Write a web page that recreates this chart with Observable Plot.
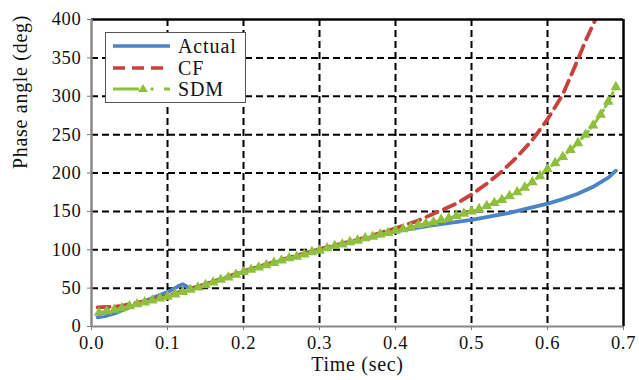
<!DOCTYPE html>
<html>
<head>
<meta charset="utf-8">
<script src="https://cdn.jsdelivr.net/npm/d3@7"></script>
<script src="https://cdn.jsdelivr.net/npm/@observablehq/plot@0.6"></script>
<style>
  html, body { margin: 0; padding: 0; background: #fff; }
  #wrap { position: relative; width: 639px; height: 380px; }
  #legend { position: absolute; left: 105px; top: 32px; width: 141px; height: 71px;
            border: 1px solid #555; background: #fff; box-sizing: border-box; }
  #legend svg { display: block; }
  #legend text { font-family: "Liberation Serif", serif; font-size: 20px; letter-spacing: 0.9px; fill: #111; }
</style>
</head>
<body>
<div id="wrap"></div>
<script>
// ---- data ----
const actualT = [0.008,0.02,0.03,0.04,0.05,0.06,0.07,0.08,0.09,0.10,0.11,0.115,0.12,0.124,0.128,0.133,0.14,0.15,0.17,0.20,0.25,0.30,0.35,0.40,0.45,0.50,0.55,0.60,0.62,0.64,0.66,0.68,0.69];
const actualV = [12,14,17,21,25,29,33,37,41,45,50,53,55,53,50,50,52,55,61,71,86,100,112,124,132,139,148,160,166,173,182,194,203];

const cfT = [0.008,0.02,0.03,0.04,0.05,0.07,0.10,0.15,0.20,0.25,0.30,0.35,0.40,0.43,0.45,0.48,0.50,0.52,0.54,0.56,0.58,0.60,0.62,0.64,0.65,0.663];
const cfV = [25,25.5,26,27,29,33,40,55,72,87,101,113,128,138,147,160,172,186,202,221,243,270,302,348,372,400];

const sdmT = [0.01,0.02,0.03,0.04,0.05,0.06,0.07,0.08,0.09,0.10,0.11,0.12,0.13,0.14,0.15,0.16,0.17,0.18,0.19,0.20,0.21,0.22,0.23,0.24,0.25,0.26,0.27,0.28,0.29,0.30,0.31,0.32,0.33,0.34,0.35,0.36,0.37,0.38,0.39,0.40,0.41,0.42,0.43,0.44,0.45,0.46,0.47,0.48,0.49,0.50,0.51,0.52,0.53,0.54,0.55,0.56,0.57,0.58,0.59,0.60,0.61,0.62,0.63,0.64,0.65,0.66,0.67,0.68,0.69];
const sdmV = [18,20,22,24,26.5,29,31.5,34,36.5,39,42,45,48,51,54,57.5,61,64,67.5,71,74,77,80,83,86,89,91,94,97,99,102,105,107,110,112,115,117,120,122,125,127,129,132,134,136,139,141,144,147,150,153,157,161,165,170,175,181,188,196,205,213,221,230,239,250,262,276,293,312];

const xTicks = [0,0.1,0.2,0.3,0.4,0.5,0.6,0.7];
const yTicks = [0,50,100,150,200,250,300,350,400];
const xGrid = [0.1,0.2,0.3,0.4,0.5,0.6];
const yGrid = [50,100,150,200,250,300,350];

const seriesNames = ["Actual","CF","SDM"];
const seriesColors = ["#4a83c6","#c9413c","#8fbf3c"];

const actual = actualT.map((t,i)=>({t, v: actualV[i]}));
const cf = cfT.map((t,i)=>({t, v: cfV[i]}));
const sdm = sdmT.map((t,i)=>({t, v: sdmV[i]}));

const chart = Plot.plot({
  width: 639, height: 380,
  marginLeft: 91, marginRight: 16, marginTop: 19, marginBottom: 54,
  style: { fontFamily: "Liberation Serif, serif", fontSize: "18.5px", color: "#111", background: "#fff", letterSpacing: "0.7px" },
  x: { domain: [0, 0.7] },
  y: { domain: [0, 400] },
  marks: [
    Plot.ruleX(xGrid, { stroke: "#000", strokeWidth: 2, strokeDasharray: "7,4" }),
    Plot.ruleY(yGrid, { stroke: "#000", strokeWidth: 2, strokeDasharray: "7,4" }),
    Plot.axisX({ ticks: xTicks, tickFormat: d3.format(".1f"), tickSize: 4, tickPadding: 5, stroke: "#777", label: null }),
    Plot.axisY({ ticks: yTicks, tickFormat: d => String(d), tickSize: 4, tickPadding: 6, stroke: "#777", label: null }),
    Plot.line(actual, { x: "t", y: "v", stroke: seriesColors[0], strokeWidth: 3.8, clip: true }),
    Plot.line(cf, { x: "t", y: "v", stroke: seriesColors[1], strokeWidth: 3.8, strokeDasharray: "12,7", clip: true }),
    Plot.line(sdm, { x: "t", y: "v", stroke: seriesColors[2], strokeWidth: 3, strokeDasharray: "10,4,2,4", clip: true }),
    Plot.dot(sdm, { x: "t", y: "v", symbol: "triangle", r: 4, fill: seriesColors[2], stroke: "none" }),
    // frame: top/right black, left/bottom gray
    Plot.ruleY([400], { stroke: "#000", strokeWidth: 2.5 }),
    Plot.ruleX([0.7], { stroke: "#000", strokeWidth: 2.5 }),
    Plot.ruleX([0], { stroke: "#888", strokeWidth: 2.5 }),
    Plot.ruleY([0], { stroke: "#888", strokeWidth: 2 }),
    Plot.text(["Time (sec)"], { frameAnchor: "bottom", dy: 44, fontSize: 20, fill: "#111" }),
    Plot.text(["Phase angle (deg)"], { frameAnchor: "left", rotate: -90, dx: -71, dy: -4, fontSize: 20, fill: "#111" })
  ]
});

const wrap = document.getElementById("wrap");
wrap.appendChild(chart);

// legend overlay
const ns = "http://www.w3.org/2000/svg";
const leg = document.createElement("div");
leg.id = "legend";
const ls = document.createElementNS(ns, "svg");
ls.setAttribute("width", 139); ls.setAttribute("height", 69);
const rowsY = [13, 35, 56];
function el(tag, attrs) { const e = document.createElementNS(ns, tag); for (const k in attrs) e.setAttribute(k, attrs[k]); ls.appendChild(e); return e; }
// Actual
el("line", { x1: 7, x2: 64, y1: rowsY[0], y2: rowsY[0], stroke: seriesColors[0], "stroke-width": 3.5 });
// CF
el("line", { x1: 7, x2: 64, y1: rowsY[1], y2: rowsY[1], stroke: seriesColors[1], "stroke-width": 3.5, "stroke-dasharray": "12,7" });
// SDM
el("line", { x1: 7, x2: 33, y1: rowsY[2], y2: rowsY[2], stroke: seriesColors[2], "stroke-width": 3 });
el("path", { d: `M${37},${rowsY[2]-5} L${42},${rowsY[2]+3} L${32},${rowsY[2]+3} Z`, fill: seriesColors[2] });
el("circle", { cx: 46, cy: rowsY[2], r: 1.7, fill: seriesColors[2] });
el("line", { x1: 58, x2: 64, y1: rowsY[2], y2: rowsY[2], stroke: seriesColors[2], "stroke-width": 3 });
seriesNames.forEach((n, i) => {
  const t = el("text", { x: 72, y: rowsY[i] + 6.5 });
  t.textContent = n;
});
leg.appendChild(ls);
wrap.appendChild(leg);
</script>
</body>
</html>
